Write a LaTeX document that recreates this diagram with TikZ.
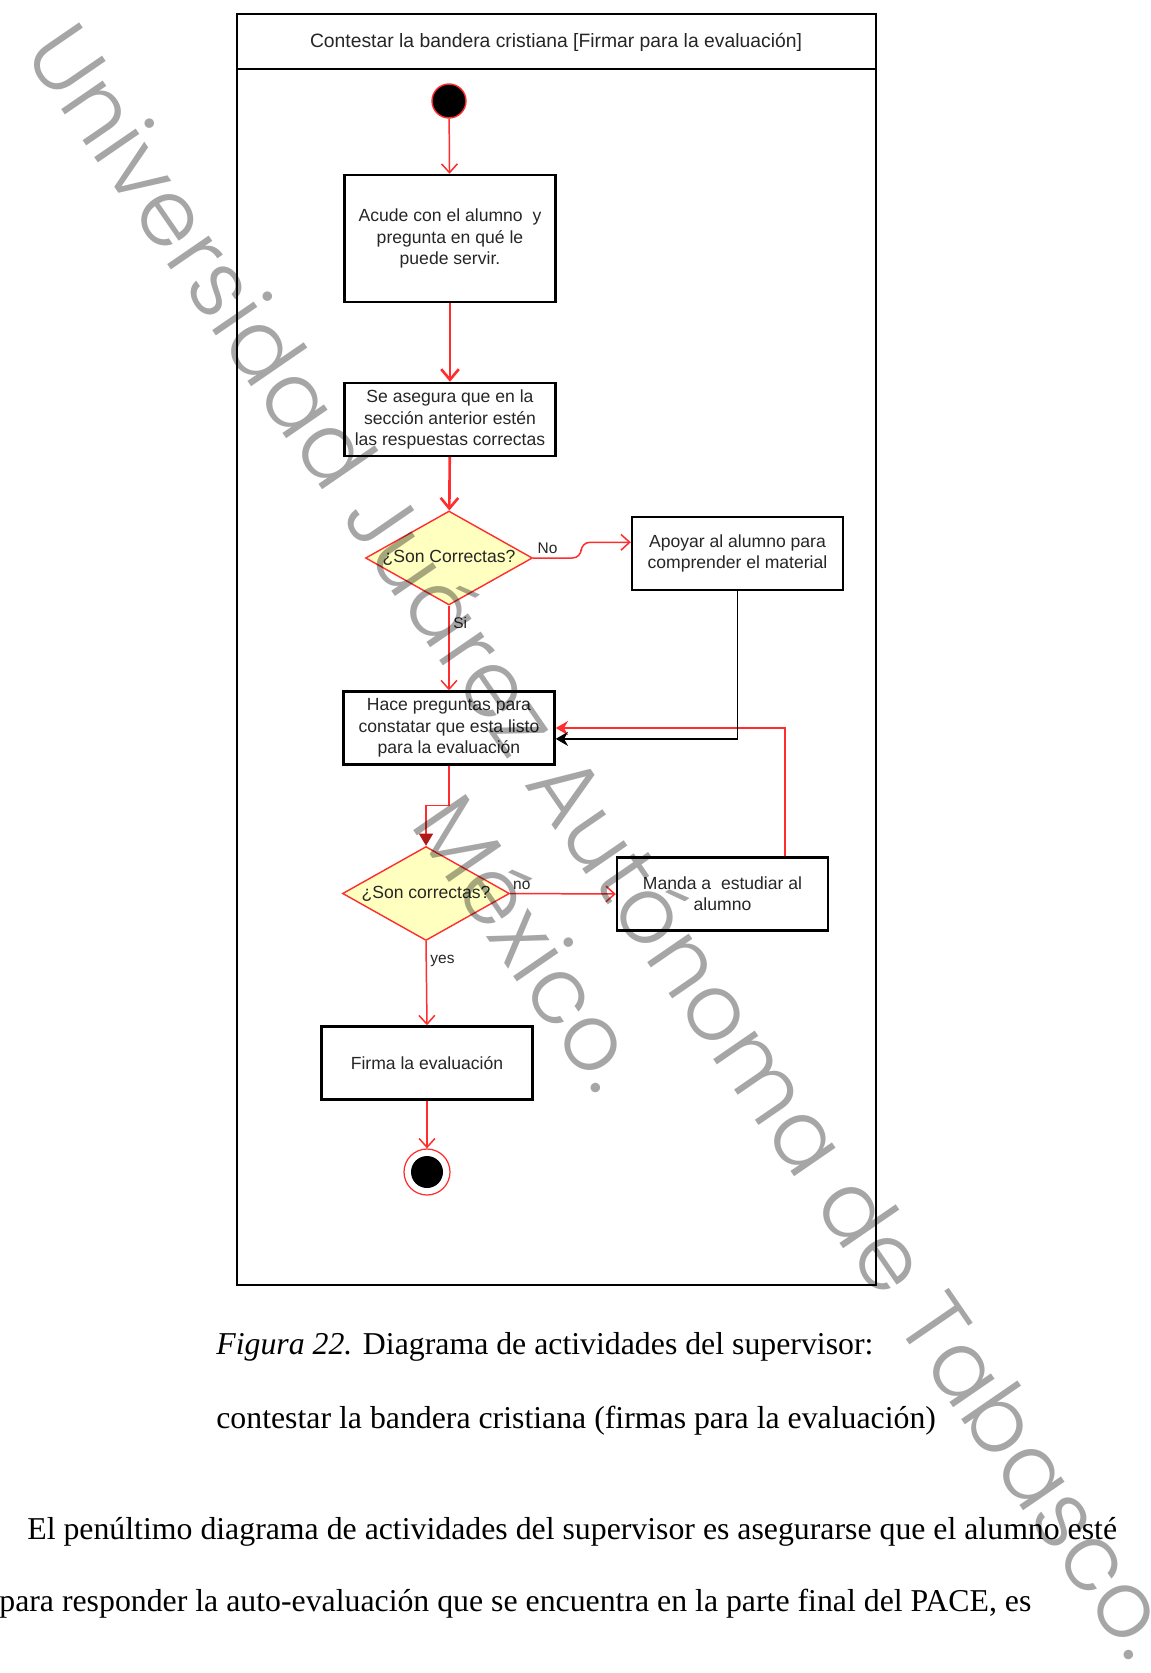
\documentclass[tikz,border=0pt]{standalone}
\usepackage{fontspec}
\setmainfont{Liberation Serif}
\setsansfont{Liberation Sans}
\newfontfamily\marcafont{Poppins}[UprightFont={* Light}]
\usetikzlibrary{shapes.geometric,arrows.meta}
\definecolor{rojo}{RGB}{255,45,45}
\definecolor{rojoosc}{RGB}{175,25,25}
\definecolor{amarillo}{RGB}{255,255,192}

\begin{document}
\begin{tikzpicture}[x=0.02cm,y=-0.02cm]

    \tikzset{actividad/.style={draw,line width=1.4pt,minimum width=4.22cm,minimum height=1.46cm,inner sep=0pt,align=center,text=black!85,font=\sffamily\fontsize{10}{12.1}\selectfont},
      decision/.style={draw=rojo,line width=0.8pt,fill=amarillo,shape=diamond,aspect=1.8,inner sep=0pt,minimum width=3.34cm,minimum height=1.88cm,text=black!85,font=\sffamily\fontsize{10}{12}\selectfont},
      etiqueta/.style={inner sep=2pt,text=black!85,font=\sffamily\fontsize{8.8}{10}\selectfont},
      texto/.style={anchor=base west,inner sep=0pt,font=\fontsize{18.1}{22}\selectfont},
      marca/.style={anchor=base,inner sep=0pt,rotate=-55.5,text=black,text opacity=0.35,font=\marcafont\fontsize{52.5}{60}\selectfont}}

    \fill[white] (0,0) rectangle (1151,1673);
    \useasboundingbox (0,0) rectangle (1151,1673);

    \draw[line width=1.4pt] (237,14) rectangle (876,1285);
    \draw[line width=1.4pt] (237,69) -- (876,69);
    \node[text=black!85,font=\sffamily\fontsize{11}{13}\selectfont] (t) at (556,42) {Contestar la bandera cristiana [Firmar para la evaluación]};

    \node[circle,fill=black,draw=rojo,line width=0.8pt,minimum size=0.68cm,inner sep=0pt] (p0) at (449,101) {};
    \node[actividad,minimum height=2.54cm] (p1) at (450,238.5) {Acude con el alumno \ y\\pregunta en qué le\\puede servir.};
    \node[actividad] (p2) at (450,419.5) {Se asegura que en la\\sección anterior estén\\las respuestas correctas};
    \node[decision] (d1) at (449,558) {¿Son Correctas?};
    \node[actividad] (p3) at (737.5,553.5) {Apoyar al alumno para\\comprender el material};
    \node[actividad] (p4) at (449,728) {Hace preguntas para\\constatar que esta listo\\para la evaluación};
    \node[decision] (d2) at (426,893.5) {¿Son correctas?};
    \node[actividad] (p5) at (722.5,894) {Manda a \ estudiar al\\alumno};
    \node[actividad] (p6) at (427,1063) {Firma la evaluación};
    \node[circle,draw=rojo,line width=0.7pt,minimum size=0.92cm,inner sep=0pt] (p9) at (427,1172) {};
    \node[circle,fill=black,minimum size=0.64cm,inner sep=0pt] (p9i) at (p9) {};

    \begin{scope}[every path/.style={draw=rojo,line width=0.85pt,-{Straight Barb[length=5pt,width=9pt]}}]
        \draw (p0) -- (p1);
        \draw[line width=1.5pt,-{Straight Barb[length=6pt,width=10pt]}] (p1) -- (p2);
        \draw[line width=1.5pt,-{Straight Barb[length=6pt,width=10pt]}] (p2) -- (d1);
        \draw[rounded corners=5pt] (d1.east) -- node[pos=0.3,above,etiqueta]{No} ++(48,0) |- (p3.174);
        \draw (d1) -- node[pos=0.2,right,etiqueta]{Si} (p4);
        \draw[-{Stealth[length=7pt,width=8pt]}] ([xshift=35.7pt]p5.north) |- (p4.east);
        \draw[-{Triangle[length=7pt,width=8pt,color=rojoosc]}] (p4.south) -- ++(0,40) -| (d2.north);
        \draw (d2.east) -- node[pos=0.11,above,etiqueta]{no} (p5.west);
        \draw (d2.south) -- node[pos=0.23,right,etiqueta]{yes} (p6.north);
        \draw (p6) -- (p9);
    \end{scope}
    \draw[line width=0.9pt,-{Stealth[length=7pt,width=8pt]}] (p3.south) |- ([yshift=-6.2pt]p4.east);

    \node[texto] (c1) at (216,1354) {\textit{Figura 22.} Diagrama de actividades del supervisor:};
    \node[texto] (c2) at (216,1428) {contestar la bandera cristiana (firmas para la evaluación)};
    \node[texto] (c3) at (27,1539) {El penúltimo diagrama de actividades del supervisor es asegurarse que el alumno esté};
    \node[texto] (c4) at (-1,1611) {para responder la auto-evaluación que se encuentra en la parte final del PACE, es};

    \node[marca] (w1) at (576,859) {Universidad Juárez Autónoma de Tabasco.};
    \node[marca] (w2) at (503,961) {México.};
\end{tikzpicture}
\end{document}
